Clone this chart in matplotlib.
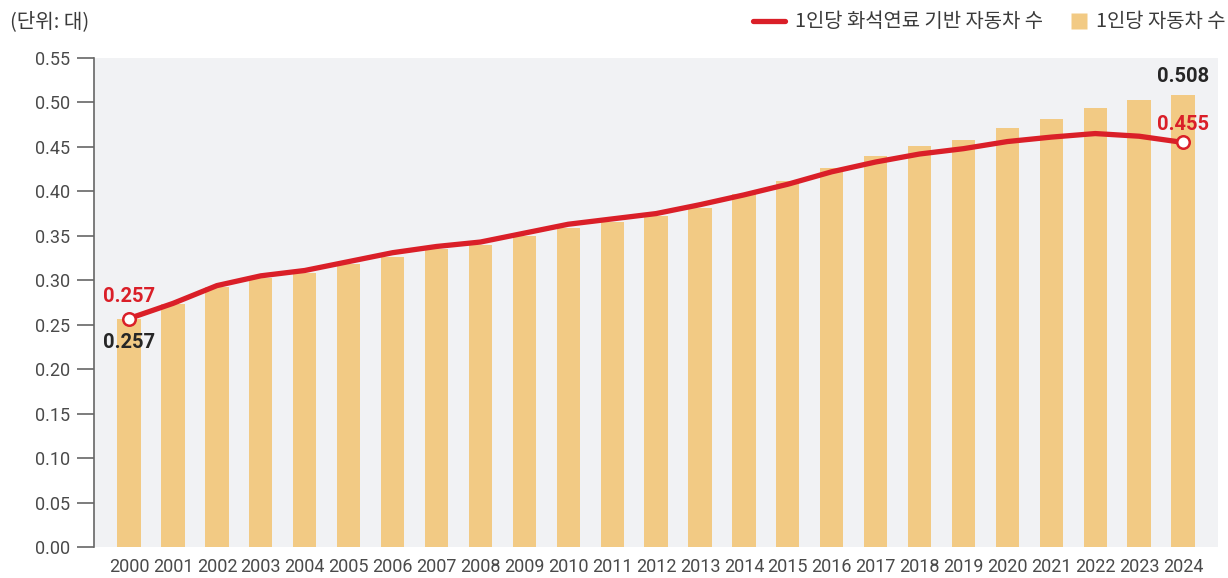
import matplotlib
matplotlib.use("Agg")
import matplotlib.pyplot as plt
from matplotlib.lines import Line2D
import numpy as np

# ── Data ──────────────────────────────────────────────────────────────────────
years = list(range(2000, 2025))
cars_per_capita = [0.257, 0.273, 0.292, 0.302, 0.308, 0.318, 0.326, 0.335, 0.340,
                   0.350, 0.359, 0.366, 0.372, 0.381, 0.397, 0.412, 0.426, 0.440,
                   0.451, 0.458, 0.471, 0.481, 0.494, 0.503, 0.508]
fossil_per_capita = [0.257, 0.274, 0.294, 0.305, 0.311, 0.321, 0.331, 0.338, 0.343,
                     0.353, 0.363, 0.369, 0.375, 0.385, 0.396, 0.408, 0.422, 0.433,
                     0.442, 0.448, 0.456, 0.461, 0.465, 0.462, 0.455]
y_ticks = [0.00, 0.05, 0.10, 0.15, 0.20, 0.25, 0.30, 0.35, 0.40, 0.45, 0.50, 0.55]

# ── Style ─────────────────────────────────────────────────────────────────────
BG = "#f1f2f4"
BAR_COLOR = "#f2ca84"
LINE_COLOR = "#da1f28"
TEXT = "#3a3a3a"
TICK_TEXT = "#4a4a4a"

KR = ["Noto Sans CJK KR", "DejaVu Sans"]
plt.rcParams["font.family"] = ["Roboto", "Noto Sans CJK KR", "DejaVu Sans"]

fig = plt.figure(figsize=(12.28, 5.78), dpi=100, facecolor="white")
ax = fig.add_axes([0.0765, 0.0536, 0.9155, 0.8461], facecolor=BG)

x = np.arange(len(years))
ax.bar(x, cars_per_capita, width=0.53, color=BAR_COLOR, zorder=2)
ax.plot(x, fossil_per_capita, color=LINE_COLOR, linewidth=3.8, zorder=3,
        solid_capstyle="round", solid_joinstyle="round")
ax.plot([x[0], x[-1]], [fossil_per_capita[0], fossil_per_capita[-1]], "o",
        markersize=9, markerfacecolor="white", markeredgecolor=LINE_COLOR,
        markeredgewidth=1.8, zorder=4)

# endpoint labels
lab = dict(fontsize=14.5, fontweight="bold", ha="center", zorder=5)
ax.text(x[0], fossil_per_capita[0] + 0.014, f"{fossil_per_capita[0]:.3f}",
        color=LINE_COLOR, va="bottom", **lab)
ax.text(x[0], cars_per_capita[0] - 0.016, f"{cars_per_capita[0]:.3f}",
        color="#262626", va="top", **lab)
ax.text(x[-1], cars_per_capita[-1] + 0.010, f"{cars_per_capita[-1]:.3f}",
        color="#262626", va="bottom", **lab)
ax.text(x[-1], fossil_per_capita[-1] + 0.010, f"{fossil_per_capita[-1]:.3f}",
        color=LINE_COLOR, va="bottom", **lab)

ax.set_xlim(-0.8, len(years) - 0.2)
ax.set_ylim(0, 0.55)
ax.set_yticks(y_ticks)
ax.set_yticklabels([f"{v:.2f}" for v in y_ticks], fontsize=13, color=TICK_TEXT)
ax.set_xticks(x)
ax.set_xticklabels([str(y) for y in years], fontsize=13, color=TICK_TEXT)
ax.tick_params(axis="x", length=0, pad=8)
ax.tick_params(axis="y", length=12, width=1.2, color="#666666", pad=5)
for s in ["top", "right", "bottom"]:
    ax.spines[s].set_visible(False)
ax.spines["left"].set_color("#666666")
ax.spines["left"].set_linewidth(1.2)

fig.text(0.008, 0.962, "(단위: 대)", fontsize=14.5, color=TEXT, family=KR,
         ha="left", va="center")

# two separate legend entries, placed side by side at top right
leg_kw = dict(loc="center right", frameon=False, borderpad=0, borderaxespad=0,
              prop={"family": KR, "size": 14.3}, labelcolor=TEXT, handletextpad=0.5)
leg_line = fig.legend([Line2D([0], [0], color=LINE_COLOR, linewidth=3.8,
                              solid_capstyle="round")],
                      ["1인당 화석연료 기반 자동차 수"],
                      bbox_to_anchor=(1043 / 1228, 0.962), handlelength=1.6, **leg_kw)
fig.legend([Line2D([0], [0], linestyle="none", marker="s", markersize=11,
                   markerfacecolor=BAR_COLOR, markeredgecolor="none")],
           ["1인당 자동차 수"],
           bbox_to_anchor=(1226 / 1228, 0.962), handlelength=0.8, **leg_kw)

fig.savefig("out.png", dpi=100, facecolor="white")
